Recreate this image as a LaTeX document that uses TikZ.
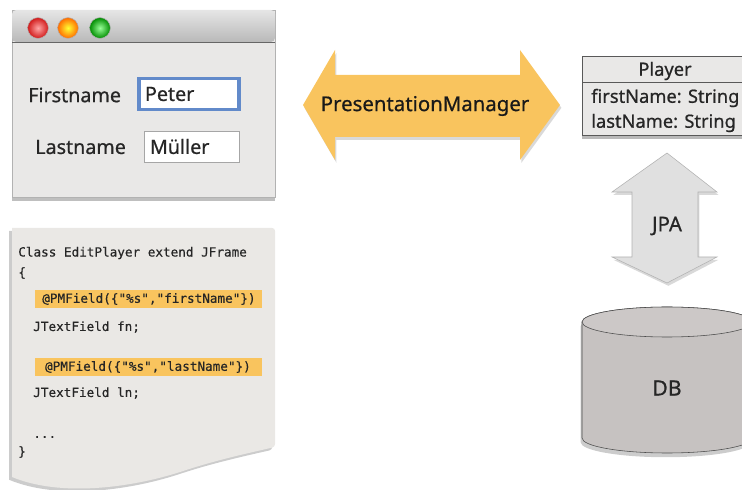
\documentclass[tikz,border=0pt]{standalone}
\usepackage{fontspec}
\setmainfont{Noto Sans}[FakeBold=0.7]
\setmonofont{DejaVu Sans Mono}[FakeBold=0.4]
\usetikzlibrary{shadows}
\definecolor{pmorange}{RGB}{249,196,94}
\definecolor{winbody}{RGB}{233,232,231}
\definecolor{sheet}{RGB}{234,232,229}
\definecolor{jpagray}{RGB}{224,224,224}
\definecolor{dbgray}{RGB}{198,194,193}
\definecolor{focusblue}{RGB}{98,138,202}

\begin{document}
\begin{tikzpicture}[x=0.025cm, y=-0.025cm,
	every node/.style={text=black!85},
	uilabel/.style={font=\fontsize{14}{16}\selectfont, anchor=west, inner sep=0pt},
	textbox/.style={draw=gray!70, fill=white, minimum height=0.78cm, inner xsep=0.15cm, font=\fontsize{14}{16}\selectfont, align=left},
	light/.style={circle, minimum size=0.52cm, inner sep=0pt, draw=black!30},
	codeline/.style={font=\fontsize{9}{11}\selectfont\ttfamily, anchor=west, inner sep=0pt},
	annot/.style={fill=pmorange, minimum height=0.45cm, text width=5.325cm, inner xsep=0.175cm, inner ysep=0pt, font=\fontsize{9}{11}\selectfont\ttfamily, align=left, anchor=west},
	umltext/.style={font=\fontsize{13}{15}\selectfont, inner sep=0pt}]
	\useasboundingbox (0,0) rectangle (742,490);

	\path[fill=winbody, draw=gray!60, drop shadow={opacity=0.5, shadow xshift=0pt, shadow yshift=-3pt}] (12,10) rectangle (275,197);
	\shade[top color=gray!20, bottom color=gray!55, rounded corners=3pt] (12,42) -- (12,10) -- (275,10) -- (275,42) -- cycle;
	\draw[gray!80!black] (12,42) -- (275,42);
	\node[light, inner color=red!35!white, outer color=red!80!black!90] (red) at (38,28) {};
	\node[light, inner color=yellow!80!white, outer color=orange!85!red] (amber) at (68,28) {};
	\node[light, inner color=green!40!white, outer color=green!55!black] (green) at (100,28) {};
	\node[uilabel] (firstlbl) at (28,95) {Firstname};
	\node[uilabel] (lastlbl) at (35,147) {Lastname};
	\node[textbox, text width=2.2cm, draw=focusblue, line width=2.2pt] (peter) at (189,94) {Peter};
	\node[textbox, text width=2.075cm, minimum height=0.775cm] (mueller) at (191.5,146.5) {Müller};

	\path[fill=sheet, drop shadow={opacity=0.4, shadow xshift=-2pt, shadow yshift=-2pt}, rounded corners=2pt] (12,228) -- (275,228) -- (275,447) [sharp corners] .. controls (235,456) and (210,462) .. (180,472) .. controls (130,488) and (60,497) .. (12,477) -- cycle;
	\node[codeline] (classline) at (18,253) {Class EditPlayer extend JFrame};
	\node[codeline] (openbrace) at (18,273) {\{};
	\node[annot] (annotfirst) at (35,299) {@PMField(\{"\%s","firstName"\})};
	\node[codeline] (fnline) at (33,327) {JTextField fn;};
	\node[annot] (annotlast) at (35,367) {\hspace{2pt}@PMField(\{"\%s","lastName"\})};
	\node[codeline] (lnline) at (33,393) {JTextField ln;};
	\node[codeline] (dots) at (33,437) {...};
	\node[codeline] (closebrace) at (18,452) {\}};

	\path[fill=pmorange, drop shadow={opacity=0.3, shadow xshift=1pt, shadow yshift=-2pt}] (303,105) -- (335,50) -- (335,75) -- (520,75) -- (520,50) -- (560,105) -- (520,160) -- (520,137) -- (335,137) -- (335,160) -- cycle;
	\node[font=\fontsize{14.5}{17}\selectfont, text=black!90] (pm) at (425,106) {PresentationManager};

	\path[fill=winbody, draw=gray!70!black, drop shadow={opacity=0.55, shadow xshift=0pt, shadow yshift=-3pt}] (582,56) rectangle (752,135);
	\draw[gray!70!black] (582,82) -- (752,82);
	\node[umltext] (player) at (665,71) {Player};
	\node[umltext, anchor=west] (fname) at (591,98) {firstName: String};
	\node[umltext, anchor=west] (lname) at (591,123) {lastName: String};

	\path[fill=jpagray, draw=gray!60, drop shadow={opacity=0.3, shadow xshift=1pt, shadow yshift=-2pt}] (667,153) -- (717,192) -- (698,192) -- (698,257) -- (717,257) -- (667,283) -- (612,257) -- (632,257) -- (632,192) -- (612,192) -- cycle;
	\node[font=\fontsize{14.5}{17}\selectfont] (jpa) at (667,226) {JPA};

	\path[fill=dbgray, draw=gray!60!black, drop shadow={opacity=0.4, shadow xshift=-1pt, shadow yshift=-3pt}] (582,322) -- (582,438) arc[start angle=180, end angle=0, x radius=85, y radius=15] -- (752,322) arc[start angle=360, end angle=180, x radius=85, y radius=15] -- cycle;
	\draw[gray!60!black, fill=dbgray!90!white] (667,322) ellipse [x radius=85, y radius=15];
	\node[font=\fontsize{15}{18}\selectfont] (db) at (667,388) {DB};
\end{tikzpicture}
\end{document}
